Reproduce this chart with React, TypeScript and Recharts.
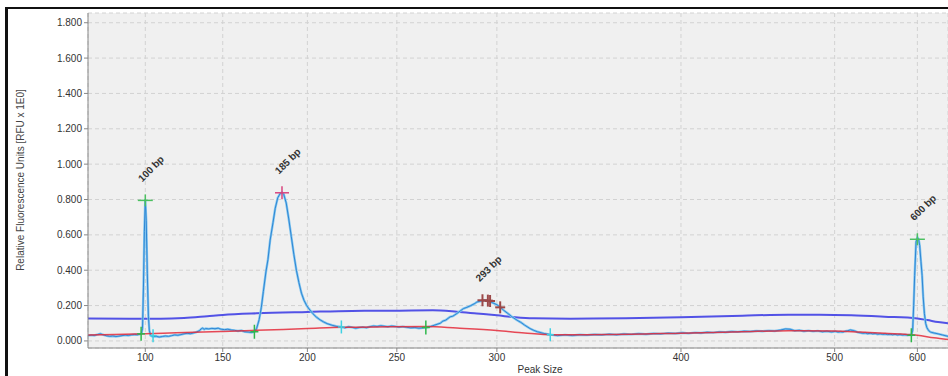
import React from "react";
import {
  ComposedChart,
  Line,
  Scatter,
  XAxis,
  YAxis,
  CartesianGrid,
} from "recharts";

// Size calibration: fragment size (bp) -> migration time (s)
const LADDER_BP = [100, 150, 200, 250, 300, 400, 500, 600];
const LADDER_TIME = [34.53, 42.27, 50.73, 59.67, 69.67, 88.07, 103.43, 111.7];
const TICK_LABELS = ["100", "150", "200", "250", "300", "400", "500", "600"];
const SIZE_RANGE = [63, 637];
const Y_TICKS = [0, 0.2, 0.4, 0.6, 0.8, 1.0, 1.2, 1.4, 1.6, 1.8];

// Sample trace [bp, RFU]
const SIGNAL: [number, number][] = [
  [63, 0.03], [65, 0.033], [67, 0.031], [69, 0.036], [71, 0.04], [73, 0.034],
  [75, 0.029], [77, 0.026], [79, 0.028], [81, 0.025], [83, 0.027], [85, 0.03],
  [87, 0.033], [89, 0.031], [91, 0.034], [93, 0.036], [95, 0.035], [97.5, 0.04],
  [98.2, 0.07], [98.8, 0.3], [99.4, 0.62], [100, 0.8], [100.6, 0.68], [101.3, 0.38],
  [102, 0.14], [102.6, 0.06], [103.3, 0.035], [104, 0.028], [105, 0.024], [107, 0.026],
  [109, 0.022], [111, 0.025], [113, 0.028], [115, 0.026], [117, 0.03], [119, 0.034],
  [121, 0.032], [123, 0.036], [125, 0.04], [127, 0.043], [129, 0.041], [131, 0.045],
  [133, 0.05], [135, 0.058], [136, 0.068], [137, 0.072], [138, 0.066], [139, 0.07],
  [141, 0.068], [143, 0.071], [145, 0.069], [147, 0.072], [149, 0.066], [151, 0.064],
  [153, 0.066], [155, 0.062], [157, 0.06], [159, 0.056], [161, 0.059], [163, 0.052],
  [165, 0.05], [167, 0.048], [168.7, 0.052], [170, 0.07], [171.5, 0.12], [172.8, 0.19],
  [174, 0.28], [175.5, 0.39], [176.7, 0.46], [178, 0.57], [179.7, 0.67], [181, 0.75],
  [182.5, 0.81], [184, 0.835], [185, 0.84], [186, 0.83], [187.5, 0.78], [189, 0.69],
  [190.5, 0.59], [192, 0.49], [193.5, 0.4], [195, 0.33], [196.5, 0.27], [198, 0.23],
  [199.6, 0.2], [201, 0.18], [203, 0.155], [205, 0.135], [207, 0.12], [209, 0.108],
  [211, 0.098], [213.7, 0.089], [216, 0.083], [219, 0.079], [221, 0.074], [223, 0.08],
  [225, 0.077], [227, 0.072], [229, 0.076], [231, 0.078], [233, 0.075], [235, 0.081],
  [237, 0.084], [239, 0.082], [241, 0.086], [243, 0.083], [245, 0.08], [247, 0.084],
  [249, 0.082], [251, 0.078], [253, 0.081], [255, 0.077], [257, 0.074], [259, 0.076],
  [261, 0.072], [263, 0.074], [264.5, 0.076], [267, 0.082], [269, 0.09], [271.7, 0.1],
  [273, 0.112], [274.5, 0.118], [276.6, 0.136], [278, 0.14], [280, 0.155], [282, 0.172],
  [283.3, 0.183], [285, 0.19], [287, 0.2], [289, 0.212], [290, 0.22], [292, 0.226],
  [294, 0.23], [296, 0.225], [298, 0.215], [300, 0.205], [302, 0.19], [303.6, 0.174],
  [306, 0.155], [308, 0.138], [311, 0.117], [313, 0.105], [315, 0.09], [318, 0.07],
  [320, 0.06], [322, 0.052], [325.5, 0.042], [329, 0.036], [333, 0.03], [337, 0.034],
  [341, 0.031], [345, 0.035], [349, 0.033], [353, 0.036], [357, 0.034], [361, 0.038],
  [365, 0.035], [369, 0.039], [373, 0.037], [377, 0.041], [381, 0.038], [385, 0.042],
  [389, 0.04], [393, 0.044], [397, 0.042], [401, 0.046], [405, 0.043], [409, 0.047],
  [413, 0.045], [417, 0.049], [421, 0.047], [425, 0.051], [429, 0.049], [433, 0.053],
  [437, 0.051], [441, 0.055], [445, 0.053], [449, 0.057], [453, 0.055], [457, 0.058],
  [461, 0.056], [465, 0.062], [468, 0.068], [471, 0.066], [474, 0.058], [477, 0.06],
  [480, 0.055], [483, 0.058], [486, 0.054], [489, 0.057], [492, 0.052], [495, 0.055],
  [498, 0.051], [501, 0.054], [504, 0.05], [507, 0.052], [510, 0.05], [513, 0.055],
  [516, 0.058], [519, 0.062], [522, 0.059], [525, 0.055], [528, 0.048], [531, 0.046],
  [534, 0.043], [537, 0.045], [540, 0.041], [543, 0.043], [546, 0.04], [549, 0.042],
  [552, 0.038], [555, 0.04], [558, 0.037], [561, 0.039], [564, 0.036], [567, 0.038],
  [570, 0.035], [573, 0.037], [576, 0.034], [579, 0.036], [582, 0.033], [585, 0.035],
  [588, 0.032], [591, 0.034], [592.7, 0.032], [594.3, 0.06], [595.5, 0.2], [596.7, 0.37],
  [598.4, 0.56], [600, 0.585], [601.5, 0.575], [602.8, 0.54], [604.3, 0.45], [605.7, 0.37],
  [607, 0.25], [608.5, 0.155], [610, 0.1], [611.5, 0.075], [613.7, 0.058], [616, 0.05],
  [620, 0.045], [625, 0.04], [630, 0.034], [637, 0.026],
];

// Upper (violet) curve [bp, RFU]
const UPPER: [number, number][] = [
  [63, 0.127], [90, 0.126], [110, 0.126], [125, 0.13], [140, 0.14], [150, 0.147],
  [170, 0.156], [200, 0.164], [225, 0.17], [250, 0.171], [268, 0.173], [280, 0.165],
  [290, 0.155], [300, 0.145], [310, 0.134], [320, 0.128], [340, 0.126], [370, 0.128],
  [400, 0.134], [440, 0.143], [470, 0.148], [490, 0.148], [520, 0.145], [560, 0.137],
  [600, 0.127], [612, 0.118], [625, 0.107], [637, 0.1],
];

// Baseline (red) curve [bp, RFU]
const BASELINE: [number, number][] = [
  [63, 0.034], [80, 0.036], [100, 0.041], [120, 0.046], [150, 0.054], [170, 0.06],
  [200, 0.07], [220, 0.077], [245, 0.08], [265, 0.082], [280, 0.073], [300, 0.059],
  [315, 0.045], [330, 0.035], [360, 0.036], [400, 0.044], [440, 0.052], [470, 0.058],
  [500, 0.056], [530, 0.05], [560, 0.043], [600, 0.032], [620, 0.018], [637, 0.008],
];

// Peak markers [bp, RFU]
const LADDER_TOPS: [number, number][] = [[100, 0.795], [600, 0.575]];
const SAMPLE_TOPS: [number, number][] = [[185, 0.838]];
const FRAGMENT_TOPS: [number, number][] = [[292.8, 0.23], [295.5, 0.228], [296.6, 0.226], [301.8, 0.19]];
const PEAK_STARTS: [number, number][] = [[97.3, 0.04], [168.7, 0.052], [264.5, 0.076], [592.7, 0.032]];
const PEAK_ENDS: [number, number][] = [[105, 0.03], [219, 0.079], [329, 0.035]];
const LABEL_SIZES = [100, 185, 293, 600];
const LABEL_RFU = [0.795, 0.838, 0.23, 0.575];
const LABEL_TEXT = ["100 bp", "185 bp", "293 bp", "600 bp"];

function toTime(bp: number): number {
  const n = LADDER_BP.length;
  let i = 0;
  while (i < n - 2 && bp > LADDER_BP[i + 1]) i++;
  const b0 = LADDER_BP[i], b1 = LADDER_BP[i + 1];
  const t0 = LADDER_TIME[i], t1 = LADDER_TIME[i + 1];
  return t0 + ((bp - b0) * (t1 - t0)) / (b1 - b0);
}

const pts = (arr: [number, number][]) => arr.map(([bp, v]) => ({ m: toTime(bp), v }));

const signalData = pts(SIGNAL);
const upperData = pts(UPPER);
const baselineData = pts(BASELINE);
const labelData = LABEL_SIZES.map((bp, i) => ({ m: toTime(bp), v: LABEL_RFU[i], text: LABEL_TEXT[i] }));

const FONT = '"Liberation Sans", Arial, sans-serif';

const cross = (color: string, w: number, h: number, sw: number) => (props: any) => {
  const { cx, cy } = props;
  if (cx == null || cy == null) return <g />;
  return (
    <g>
      <line x1={cx - w / 2} y1={cy} x2={cx + w / 2} y2={cy} stroke={color} strokeWidth={sw} />
      <line x1={cx} y1={cy - h / 2} x2={cx} y2={cy + h / 2} stroke={color} strokeWidth={sw} />
    </g>
  );
};

const labelShape = (props: any) => {
  const { cx, cy, payload } = props;
  if (cx == null || cy == null) return <g />;
  const x = cx - 3;
  const y = cy - 18;
  return (
    <text
      x={x}
      y={y}
      transform={`rotate(-45 ${x} ${y})`}
      fontFamily={FONT}
      fontSize={10}
      fontWeight="bold"
      fill="#333"
    >
      {payload.text}
    </text>
  );
};

export default function App() {
  return (
    <div style={{ position: "relative", width: 948, height: 376, overflow: "hidden", background: "#fff" }}>
      <style>{`body{margin:0;}`}</style>
      <div
        style={{
          position: "absolute",
          left: 5,
          top: 7,
          width: 1200,
          height: 800,
          borderTop: "2px solid #111",
          borderLeft: "3px solid #111",
          pointerEvents: "none",
        }}
      />
      <ComposedChart
        width={948}
        height={376}
        margin={{ top: 13, right: 0, bottom: 0, left: 0 }}
        style={{ fontFamily: FONT }}
      >
        <CartesianGrid stroke="#d2d2d2" strokeDasharray="4 3" fill="#f0f0f0" />
        <XAxis
          type="number"
          dataKey="m"
          domain={[toTime(SIZE_RANGE[0]), toTime(SIZE_RANGE[1])]}
          allowDataOverflow
          ticks={LADDER_TIME}
          tickFormatter={(_v: number, i: number) => TICK_LABELS[i]}
          height={28}
          tickSize={4}
          stroke="#888"
          tick={{ fontSize: 10, fill: "#333", fontFamily: FONT }}
          interval={0}
          label={{
            content: () => (
              <text x={540} y={373} textAnchor="middle" fontSize={10} fill="#333" fontFamily={FONT}>
                Peak Size
              </text>
            ),
          }}
        />
        <YAxis
          type="number"
          dataKey="v"
          domain={[-0.04, 1.855]}
          allowDataOverflow
          ticks={Y_TICKS}
          tickFormatter={(v: number) => v.toFixed(3)}
          width={88}
          tickSize={4}
          stroke="#888"
          tick={{ fontSize: 10, fill: "#333", fontFamily: FONT }}
          interval={0}
          label={{
            content: () => (
              <text
                x={24}
                y={180}
                transform="rotate(-90 24 180)"
                textAnchor="middle"
                fontSize={10}
                fill="#444"
                fontFamily={FONT}
              >
                Relative Fluorescence Units [RFU x 1E0]
              </text>
            ),
          }}
        />
        <Line data={upperData} dataKey="v" type="monotone" stroke="#5252e6" strokeWidth={2} dot={false} isAnimationActive={false} />
        <Line data={signalData} dataKey="v" type="linear" stroke="#82c6f0" strokeWidth={2.4} dot={false} isAnimationActive={false} />
        <Line data={signalData} dataKey="v" type="linear" stroke="#2f86d4" strokeWidth={1} dot={false} isAnimationActive={false} />
        <Line data={baselineData} dataKey="v" type="monotone" stroke="#e42a3a" strokeWidth={1.5} strokeOpacity={0.85} dot={false} isAnimationActive={false} />
        <Scatter data={pts(PEAK_STARTS)} dataKey="v" shape={cross("#2eb84c", 8, 14, 1.5)} isAnimationActive={false} />
        <Scatter data={pts(PEAK_ENDS)} dataKey="v" shape={cross("#3fd2e4", 7, 13, 1.5)} isAnimationActive={false} />
        <Scatter data={pts(LADDER_TOPS)} dataKey="v" shape={cross("#4cc060", 15, 12, 1.5)} isAnimationActive={false} />
        <Scatter data={pts(SAMPLE_TOPS)} dataKey="v" shape={cross("#d8457e", 14, 13, 1.5)} isAnimationActive={false} />
        <Scatter data={pts(FRAGMENT_TOPS)} dataKey="v" shape={cross("#9c4848", 10, 12, 2)} isAnimationActive={false} />
        <Scatter data={labelData} dataKey="v" shape={labelShape} isAnimationActive={false} />
      </ComposedChart>
    </div>
  );
}
